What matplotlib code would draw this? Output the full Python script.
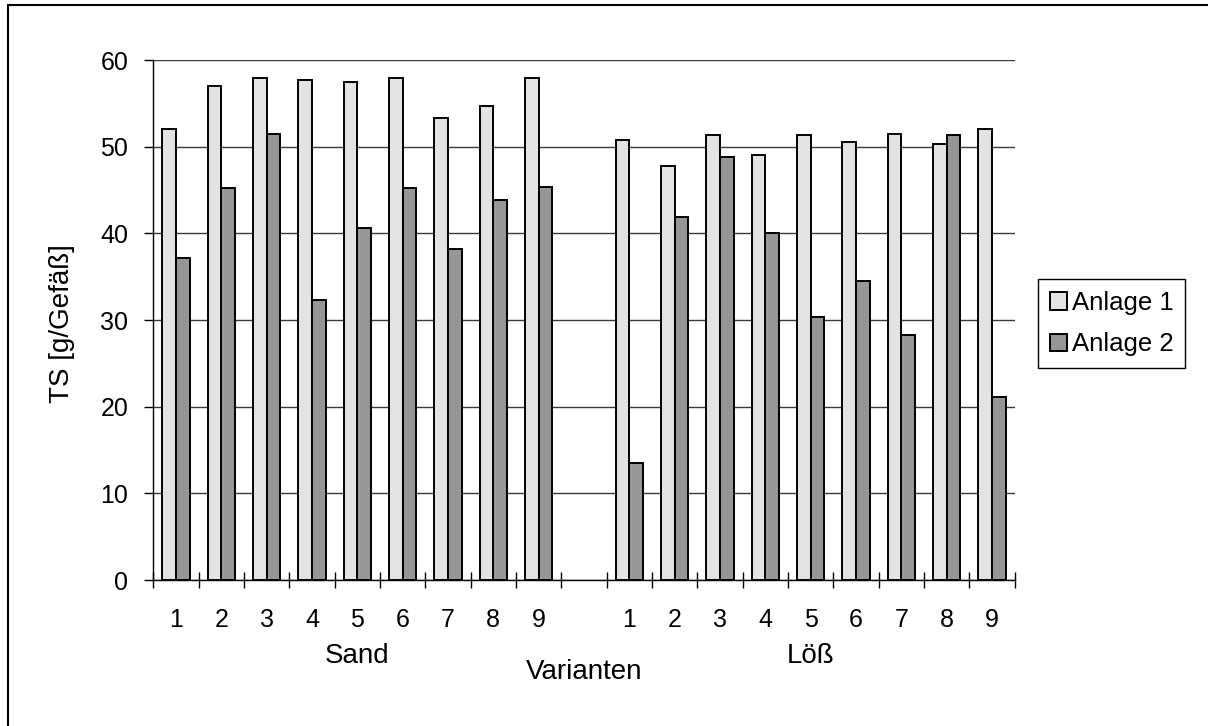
import matplotlib
matplotlib.use("Agg")
import matplotlib.pyplot as plt
import matplotlib.transforms as mtransforms
from matplotlib.patches import Rectangle, Patch
import numpy as np

plt.rcParams["font.family"] = ["Liberation Sans", "DejaVu Sans"]

# Data: dry matter per pot for two trial runs, by soil and variant
soil_groups = ["Sand", "Löß"]
variant_labels = ["1", "2", "3", "4", "5", "6", "7", "8", "9"]
anlage1_sand = [52.0, 57.0, 57.9, 57.7, 57.5, 57.9, 53.3, 54.7, 57.9]
anlage2_sand = [37.2, 45.2, 51.5, 32.3, 40.6, 45.2, 38.2, 43.8, 45.4]
anlage1_loess = [50.8, 47.8, 51.3, 49.0, 51.3, 50.5, 51.5, 50.3, 52.0]
anlage2_loess = [13.5, 41.9, 48.8, 40.0, 30.3, 34.5, 28.3, 51.3, 21.1]
series_names = ["Anlage 1", "Anlage 2"]
series_colors = ["#e3e3e3", "#969696"]

W, H = 1208, 726
fig = plt.figure(figsize=(W / 100, H / 100), dpi=100)
ax = fig.add_axes([153.3 / W, 1 - 580 / H, (1014.7 - 153.3) / W, (580 - 60) / H])

n = len(variant_labels)
x_sand = np.arange(n)
x_loess = np.arange(n) + n + 1
x_all = np.concatenate([x_sand, x_loess])
a1 = np.array(anlage1_sand + anlage1_loess)
a2 = np.array(anlage2_sand + anlage2_loess)

bw = 0.3
ax.bar(x_all - bw / 2, a1, width=bw, color=series_colors[0], edgecolor="black",
       linewidth=1.4, zorder=3)
ax.bar(x_all + bw / 2, a2, width=bw, color=series_colors[1], edgecolor="black",
       linewidth=1.4, zorder=3)

n_slots = 2 * n + 1
ax.set_xlim(-0.5, n_slots - 0.5)
ax.set_ylim(0, 60)

# y axis
ax.set_yticks(np.arange(0, 61, 10))
ax.tick_params(axis="y", direction="out", length=6.5, width=1, pad=11.5,
               labelsize=18, colors="black")
ax.yaxis.grid(True, color="#3a3a3a", linewidth=1.0, zorder=0)
ax.set_axisbelow(True)

# x axis: tick marks at slot boundaries, labels at slot centres
ax.set_xticks(np.arange(-0.5, n_slots, 1.0))
ax.set_xticklabels([])
ax.tick_params(axis="x", which="major", direction="inout", length=12, width=1)
ax.set_xticks(x_all, minor=True)
ax.set_xticklabels(variant_labels + variant_labels, minor=True)
ax.tick_params(axis="x", which="minor", length=0, pad=20, labelsize=18)

for side in ["top", "right"]:
    ax.spines[side].set_visible(False)
for side in ["left", "bottom"]:
    ax.spines[side].set_linewidth(1.0)
    ax.spines[side].set_color("black")

# group and axis titles
trans = mtransforms.blended_transform_factory(ax.transData, ax.transAxes)
ax.text(x_sand.mean(), (580 - 656) / 520, soil_groups[0], transform=trans,
        ha="center", va="center", fontsize=20)
ax.text(x_loess.mean(), (580 - 656) / 520, soil_groups[1], transform=trans,
        ha="center", va="center", fontsize=20)
ax.text(0.5, (580 - 672) / 520, "Varianten", transform=ax.transAxes,
        ha="center", va="center", fontsize=20)
fig.text(62 / W, 1 - 324 / H, "TS [g/Gefäß]", rotation=90, ha="center",
         va="center", fontsize=20)

# legend
handles = [Patch(facecolor=c, edgecolor="black", linewidth=1.4) for c in series_colors]
leg = fig.legend(handles, series_names, loc="lower left",
                 bbox_to_anchor=(1038 / W, 1 - 368 / H), bbox_transform=fig.transFigure,
                 fontsize=18.5, frameon=True, fancybox=False, framealpha=1,
                 edgecolor="black", handlelength=0.68, handleheight=0.68,
                 handletextpad=0.2, labelspacing=0.68, borderpad=0.45,
                 borderaxespad=0)
leg.get_frame().set_linewidth(1.0)

# outer chart frame
fig.add_artist(Rectangle((8 / W, -0.05), 1.1, (H - 5) / H + 0.05,
                         transform=fig.transFigure, fill=False,
                         edgecolor="black", linewidth=1.5))

fig.savefig("out.png", dpi=100)
